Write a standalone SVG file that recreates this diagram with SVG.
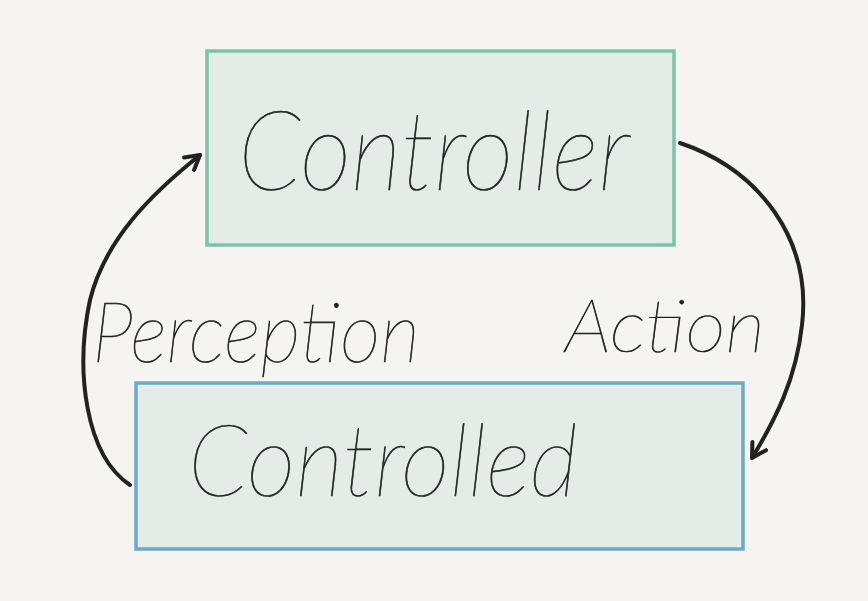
<svg xmlns="http://www.w3.org/2000/svg" width="868" height="601" viewBox="0 0 868 601">
<style>
.hand{font-family:"Lato","Inter","Open Sans","DejaVu Sans",sans-serif;font-style:italic;font-weight:100;fill:#222;stroke:#222;stroke-width:0.7}
.conn{fill:none;stroke:#222;stroke-width:4;stroke-linecap:round;marker-end:url(#ah)}
</style>
<defs>
<marker id="ah" viewBox="0 0 10 10" refX="8" refY="5" markerWidth="5" markerHeight="5" orient="auto" markerUnits="strokeWidth">
<path d="M1,1 L8,5 L1,9" fill="none" stroke="#222" stroke-width="2" stroke-linecap="round" stroke-linejoin="round"/>
</marker>
</defs>
<rect width="868" height="601" fill="#f5f4f1"/>
<g id="controller">
<rect x="207" y="51" width="467" height="194" fill="#e4ece8" stroke="#78c4ac" stroke-width="3.5"/>
<text class="hand" x="238" y="190" font-size="110" textLength="392" lengthAdjust="spacingAndGlyphs">Controller</text>
</g>
<g id="controlled">
<rect x="136" y="383" width="607" height="166" fill="#e4ece8" stroke="#6aaac6" stroke-width="3.5"/>
<text class="hand" x="188" y="496" font-size="100" textLength="390" lengthAdjust="spacingAndGlyphs">Controlled</text>
</g>
<g id="connectors">
<path class="conn" d="M130,485 C 85,455 75,370 90,300 C 105,240 150,195 200,155"/>
<path class="conn" d="M680,143 C 760,170 812,240 802,325 C 796,380 775,420 752,458"/>
</g>
<g id="labels">
<text class="hand" x="92" y="362" font-size="85" textLength="328" lengthAdjust="spacingAndGlyphs">Perception</text>
<text class="hand" x="565" y="352" font-size="75" textLength="200" lengthAdjust="spacingAndGlyphs">Action</text>
</g>
</svg>
